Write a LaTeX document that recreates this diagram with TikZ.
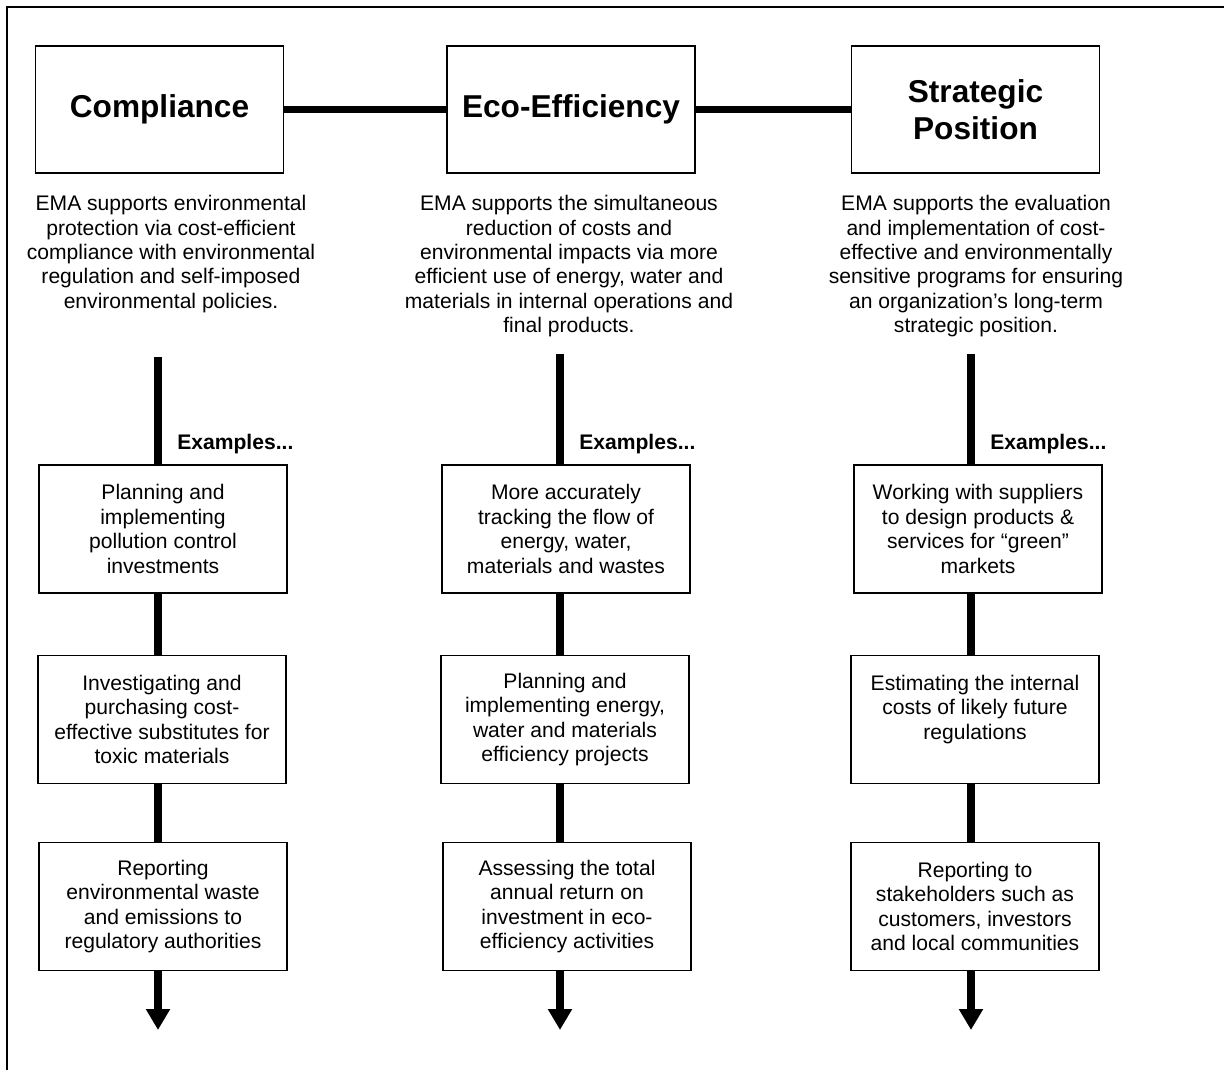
\documentclass[tikz,border=0pt]{standalone}
\usepackage{fontspec}
\setmainfont{Liberation Sans}
\usetikzlibrary{arrows.meta}
\begin{document}
\begin{tikzpicture}[x=0.02cm,y=-0.02cm]

\tikzset{line/.style={draw,line width=0.8pt}}
\tikzset{thickline/.style={draw,line width=4pt}}
\tikzset{arrow/.style={thickline,-{Triangle[width=0.46cm,length=0.42cm]}}}
\tikzset{head/.style={line,minimum width=4.96cm,minimum height=2.54cm,inner sep=0pt,align=center,font=\fontsize{18}{21}\selectfont\bfseries}}
\tikzset{desc/.style={anchor=north,align=center,inner sep=0pt,font=\fontsize{12}{13.9}\selectfont}}
\tikzset{ex/.style={line,minimum width=4.96cm,minimum height=2.56cm,inner sep=0pt,align=center,font=\fontsize{12}{13.9}\selectfont}}
\tikzset{exlabel/.style={anchor=west,inner sep=0pt,font=\fontsize{12}{14}\selectfont\bfseries}}

\useasboundingbox (0,0) rectangle (1224,1070);
\draw[line width=1.1pt] (7,1070) -- (7,7) -- (1224,7);

% headings
\node[head] (comp) at (159.5,109.5) {Compliance};
\node[head] (eco) at (571,109.5) {Eco-Efficiency};
\node[head] (strat) at (975.5,109.5) {Strategic\\Position};

\path[thickline] (comp) to (eco);
\path[thickline] (eco) to (strat);

% descriptions
\node[desc] (compdesc) at (171,195) {EMA supports environmental\\protection via cost-efficient\\compliance with environmental\\regulation and self-imposed\\environmental policies.};
\node[desc] (ecodesc) at (569,195) {EMA supports the simultaneous\\reduction of costs and\\environmental impacts via more\\efficient use of energy, water and\\materials in internal operations and\\final products.};
\node[desc] (stratdesc) at (976,195) {EMA supports the evaluation\\and implementation of cost-\\effective and environmentally\\sensitive programs for ensuring\\an organization’s long-term\\strategic position.};

% compliance column
\coordinate (c0) at (158,357);
\node[exlabel] (cx) at (177,444) {Examples...};
\node[ex] (c1) at (163,529) {Planning and\\implementing\\pollution control\\investments};
\node[ex] (c2) at (162,719.5) {Investigating and\\purchasing cost-\\effective substitutes for\\toxic materials};
\node[ex] (c3) at (163,906.5) {Reporting\\environmental waste\\and emissions to\\regulatory authorities};
\coordinate (c4) at (158,1030);

\path[thickline] (c0) to (c0 |- c1.north);
\path[thickline] (c0 |- c1.south) to (c0 |- c2.north);
\path[thickline] (c0 |- c2.south) to (c0 |- c3.north);
\path[arrow] (c0 |- c3.south) to (c4);

% eco-efficiency column
\coordinate (e0) at (560,354);
\node[exlabel] (ex) at (579,444) {Examples...};
\node[ex] (e1) at (566,529) {More accurately\\tracking the flow of\\energy, water,\\materials and wastes};
\node[ex] (e2) at (565,719.5) {Planning and\\implementing energy,\\water and materials\\efficiency projects};
\node[ex] (e3) at (567,906.5) {Assessing the total\\annual return on\\investment in eco-\\efficiency activities};
\coordinate (e4) at (560,1030);

\path[thickline] (e0) to (e0 |- e1.north);
\path[thickline] (e0 |- e1.south) to (e0 |- e2.north);
\path[thickline] (e0 |- e2.south) to (e0 |- e3.north);
\path[arrow] (e0 |- e3.south) to (e4);

% strategic position column
\coordinate (s0) at (971,354);
\node[exlabel] (sx) at (990,444) {Examples...};
\node[ex] (s1) at (978,529) {Working with suppliers\\to design products \&\\services for “green”\\markets};
\node[ex] (s2) at (975,719.5) {Estimating the internal\\costs of likely future\\regulations\\\mbox{}};
\node[ex] (s3) at (975,906.5) {Reporting to\\stakeholders such as\\customers, investors\\and local communities};
\coordinate (s4) at (971,1030);

\path[thickline] (s0) to (s0 |- s1.north);
\path[thickline] (s0 |- s1.south) to (s0 |- s2.north);
\path[thickline] (s0 |- s2.south) to (s0 |- s3.north);
\path[arrow] (s0 |- s3.south) to (s4);

\end{tikzpicture}
\end{document}
